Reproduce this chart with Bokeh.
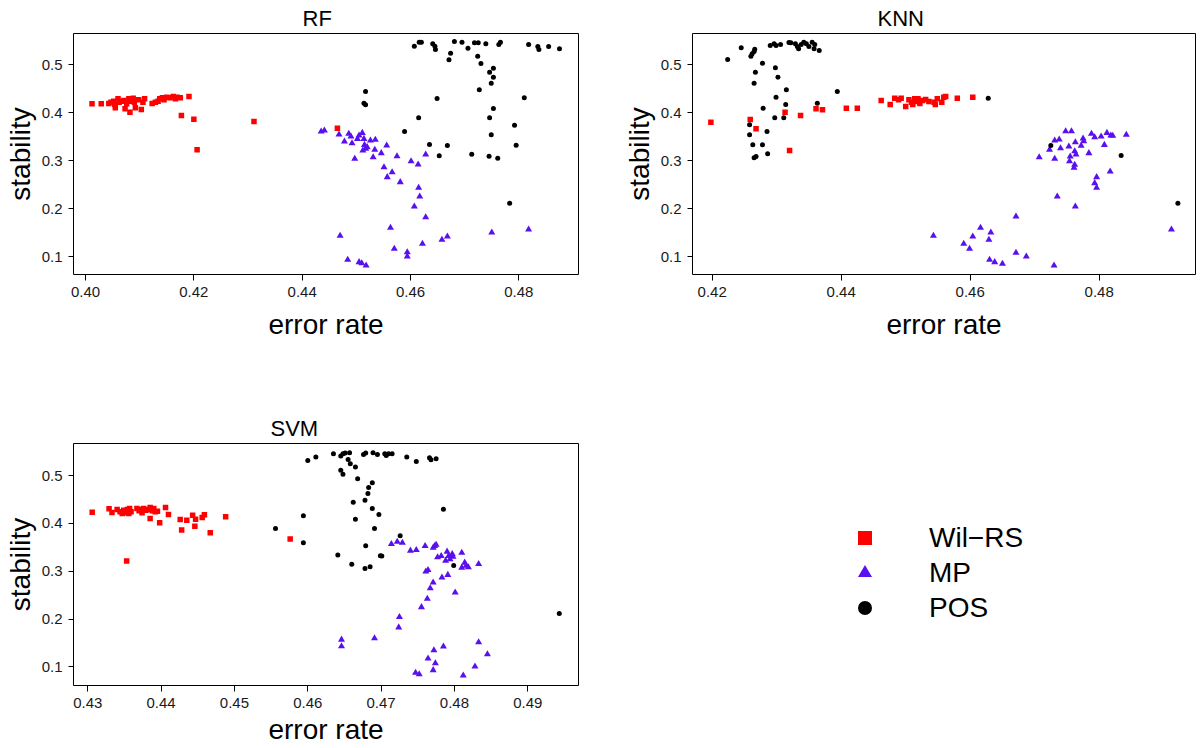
from bokeh.plotting import figure
from bokeh.models import Range1d, FixedTicker, NumeralTickFormatter, Legend, LegendItem
from bokeh.layouts import column, row
from bokeh.embed import file_html
from bokeh.resources import INLINE

FONT = "Liberation Sans"

methods = ["Wil−RS", "MP", "POS"]
colors = ["#FF0000", "#5A0FEF", "#000000"]
markers = ["square", "triangle", "circle"]
sizes = [5.5, 7, 5]

# ---------------- RF ----------------
rf_wil_err = [0.4012, 0.4029, 0.4043, 0.4047, 0.4052, 0.4054, 0.4060, 0.4062, 0.4055, 0.4066,
              0.4071, 0.4073, 0.4076, 0.4080, 0.4082, 0.4084, 0.4088, 0.4090, 0.4092, 0.4098,
              0.4103, 0.4106, 0.4109, 0.4123, 0.4129, 0.4134, 0.4137, 0.4142, 0.4145, 0.4150,
              0.4156, 0.4162, 0.4166, 0.4169, 0.4175, 0.4177, 0.4191, 0.4200, 0.4206, 0.4311,
              0.4465]
rf_wil_stab = [0.418, 0.418, 0.419, 0.4215, 0.4236, 0.4167, 0.4285, 0.4215, 0.4097, 0.4236,
               0.4250, 0.4076, 0.418, 0.4285, 0.4007, 0.4236, 0.4299, 0.4215, 0.4097, 0.4264,
               0.4063, 0.4215, 0.4285, 0.419, 0.4215, 0.4236, 0.4285, 0.4306, 0.4264, 0.432,
               0.4306, 0.4333, 0.4285, 0.432, 0.4306, 0.3938, 0.4333, 0.3861, 0.3222, 0.3813,
               0.3673]
rf_mp_err = [0.4435, 0.4441, 0.4468, 0.4478, 0.4486, 0.4490, 0.4492, 0.4497, 0.4502, 0.4505,
             0.4511, 0.4514, 0.4515, 0.4517, 0.4520, 0.4512, 0.4526, 0.4531, 0.4534, 0.4535,
             0.4546, 0.4551, 0.4556, 0.4557, 0.4566, 0.4575, 0.4581, 0.4601, 0.4614, 0.4615,
             0.4617, 0.4607, 0.4628, 0.4628, 0.4470, 0.4484, 0.4505, 0.4510, 0.4518, 0.4563,
             0.4570, 0.4594, 0.4594, 0.4622, 0.4658, 0.4668, 0.4750, 0.4818]
rf_mp_stab = [0.3604, 0.3625, 0.3542, 0.3396, 0.3556, 0.35, 0.3361, 0.3035, 0.3451, 0.3521,
              0.3576, 0.3451, 0.3326, 0.3243, 0.3278, 0.3208, 0.3417, 0.3069, 0.3222, 0.3431,
              0.3153, 0.2861, 0.3313, 0.2653, 0.2757, 0.309, 0.2549, 0.2986, 0.2917, 0.2431,
              0.225, 0.2042, 0.3125, 0.1819, 0.1431, 0.0931, 0.0882, 0.0861, 0.0813, 0.1597,
              0.116, 0.109, 0.1, 0.1264, 0.1347, 0.1417, 0.15, 0.1563]
rf_pos_err = [0.4607, 0.4616, 0.4620, 0.4641, 0.4645, 0.4646, 0.4681, 0.4695, 0.4706, 0.4718,
              0.4725, 0.4739, 0.4763, 0.4766, 0.4818, 0.4835, 0.4837, 0.4855, 0.4875, 0.4674,
              0.4671, 0.4724, 0.4730, 0.4753, 0.4746, 0.4753, 0.4749, 0.4727, 0.4517, 0.4514,
              0.4517, 0.4649, 0.4810, 0.4753, 0.4615, 0.4746, 0.4792, 0.4589, 0.4749, 0.4635,
              0.4668, 0.4795, 0.4653, 0.4713, 0.4745, 0.4761, 0.4783]
rf_pos_stab = [0.5382, 0.5465, 0.5465, 0.5431, 0.5382, 0.5313, 0.5479, 0.5465, 0.534, 0.5451,
               0.5451, 0.5431, 0.5417, 0.5465, 0.5417, 0.5375, 0.5313, 0.5375, 0.5326, 0.5236,
               0.5097, 0.5174, 0.5021, 0.4924, 0.484, 0.4736, 0.4611, 0.4472, 0.4438, 0.4194,
               0.416, 0.4292, 0.4306, 0.4083, 0.3889, 0.3889, 0.3736, 0.3604, 0.3535, 0.3333,
               0.3313, 0.3319, 0.3097, 0.3132, 0.309, 0.3049, 0.2111]

# ---------------- KNN ----------------
knn_wil_err = [0.4198, 0.4259, 0.4268, 0.4313, 0.4320, 0.4337, 0.4361, 0.4371, 0.4408, 0.4425,
               0.4462, 0.4476, 0.4483, 0.4489, 0.4493, 0.4500, 0.4505, 0.4509, 0.4511, 0.4514,
               0.4516, 0.4519, 0.4522, 0.4526, 0.4531, 0.4536, 0.4544, 0.4546, 0.4549, 0.4556,
               0.4559, 0.4562, 0.4580, 0.4604]
knn_wil_stab = [0.3799, 0.3854, 0.366, 0.4007, 0.3208, 0.3938, 0.4076, 0.4056, 0.409, 0.409,
                0.425, 0.4167, 0.4299, 0.4264, 0.4299, 0.4125, 0.4264, 0.4215, 0.4167, 0.4285,
                0.4229, 0.4285, 0.419, 0.425, 0.4271, 0.4229, 0.4215, 0.4167, 0.4285, 0.4215,
                0.432, 0.4333, 0.4299, 0.432]
knn_mp_err = [0.4543, 0.4590, 0.4599, 0.4604, 0.4616, 0.4632, 0.4629, 0.4630, 0.4638, 0.4650,
              0.4671, 0.4671, 0.4687, 0.4730, 0.4735, 0.4763, 0.4707, 0.4723, 0.4731, 0.4738,
              0.4731, 0.4740, 0.4748, 0.4757, 0.4753, 0.4763, 0.4762, 0.4764, 0.4755, 0.4754,
              0.4762, 0.4761, 0.4772, 0.4775, 0.4776, 0.4784, 0.4788, 0.4793, 0.4803, 0.4808,
              0.4812, 0.4818, 0.4821, 0.4842, 0.4817, 0.4796, 0.4793, 0.4796, 0.4912]
knn_mp_stab = [0.1431, 0.1264, 0.116, 0.1417, 0.1597, 0.15, 0.1347, 0.0931, 0.0882, 0.0847,
               0.1833, 0.1076, 0.1, 0.0813, 0.225, 0.2042, 0.3069, 0.3222, 0.3417, 0.3438,
               0.3035, 0.3257, 0.3611, 0.3611, 0.3292, 0.3382, 0.3194, 0.3125, 0.3083, 0.2986,
               0.291, 0.2847, 0.3306, 0.3458, 0.3403, 0.3153, 0.3556, 0.3486, 0.35, 0.3326,
               0.3576, 0.3521, 0.3514, 0.3535, 0.2771, 0.2653, 0.2528, 0.2431, 0.1563]
knn_pos_err = [0.4224, 0.4245, 0.4260, 0.4262, 0.4265, 0.4266, 0.4267, 0.4265, 0.4278, 0.4290,
               0.4296, 0.4299, 0.4306, 0.4319, 0.4322, 0.4329, 0.4332, 0.4334, 0.4338, 0.4342,
               0.4346, 0.4350, 0.4355, 0.4359, 0.4358, 0.4366, 0.4298, 0.4302, 0.4315, 0.4299,
               0.4279, 0.4314, 0.4363, 0.4394, 0.4311, 0.4297, 0.4258, 0.4258, 0.4263, 0.4285,
               0.4278, 0.4286, 0.4265, 0.4268, 0.4628, 0.4725, 0.4834, 0.4922]
knn_pos_stab = [0.5104, 0.5347, 0.5174, 0.5222, 0.5271, 0.5319, 0.484, 0.4611, 0.5028, 0.5396,
                0.5431, 0.5396, 0.5417, 0.5458, 0.5451, 0.5431, 0.5375, 0.5326, 0.5417, 0.5465,
                0.5431, 0.5375, 0.5465, 0.5417, 0.5326, 0.5292, 0.4931, 0.4736, 0.4472, 0.4319,
                0.409, 0.4167, 0.4194, 0.4438, 0.3889, 0.3889, 0.3743, 0.3535, 0.3326, 0.3604,
                0.3326, 0.3139, 0.3056, 0.3083, 0.4299, 0.3313, 0.3104, 0.211]

# ---------------- SVM ----------------
svm_wil_err = [0.4306, 0.4329, 0.4333, 0.4340, 0.4344, 0.4347, 0.4349, 0.4351, 0.4354, 0.4356,
               0.4357, 0.4359, 0.4367, 0.4370, 0.4372, 0.4374, 0.4376, 0.4379, 0.4382, 0.4385,
               0.4388, 0.4390, 0.4392, 0.4395, 0.4385, 0.4398, 0.4406, 0.4410, 0.4426, 0.4428,
               0.4435, 0.4443, 0.4447, 0.4446, 0.4456, 0.4459, 0.4467, 0.4488, 0.4353, 0.4576]
svm_wil_stab = [0.4236, 0.4306, 0.4229, 0.4292, 0.4243, 0.4208, 0.4278, 0.4222, 0.4292, 0.4208,
                0.4313, 0.4243, 0.4313, 0.4264, 0.4292, 0.4222, 0.4313, 0.4278, 0.4292, 0.4333,
                0.4264, 0.4313, 0.4243, 0.4257, 0.4104, 0.4014, 0.4333, 0.4188, 0.4083, 0.3861,
                0.4069, 0.4174, 0.409, 0.3944, 0.4125, 0.418, 0.3806, 0.4139, 0.3215, 0.3674]
svm_mp_err = [0.4714, 0.4722, 0.4729, 0.4740, 0.4748, 0.4760, 0.4771, 0.4773, 0.4775, 0.4777,
              0.4782, 0.4790, 0.4792, 0.4797, 0.4798, 0.4788, 0.4794, 0.4810, 0.4814, 0.4816,
              0.4810, 0.4819, 0.4833, 0.4761, 0.4764, 0.4783, 0.4791, 0.4771, 0.4767, 0.4801,
              0.4763, 0.4755, 0.4725, 0.4724, 0.4646, 0.4646, 0.4691, 0.4833, 0.4845, 0.4785,
              0.4772, 0.4764, 0.4774, 0.4771, 0.4747, 0.4752, 0.4812, 0.4828]
svm_mp_stab = [0.3569, 0.3618, 0.3597, 0.3431, 0.3444, 0.3528, 0.3493, 0.3528, 0.3556, 0.3292,
               0.3319, 0.341, 0.3319, 0.3361, 0.3306, 0.3222, 0.325, 0.3389, 0.3181, 0.3118,
               0.3076, 0.3083, 0.3153, 0.2993, 0.3028, 0.2868, 0.2924, 0.2764, 0.2646, 0.2556,
               0.2424, 0.225, 0.2042, 0.1826, 0.1569, 0.1431, 0.1597, 0.1514, 0.1264, 0.1424,
               0.1347, 0.1174, 0.1076, 0.0931, 0.0875, 0.0847, 0.0819, 0.1007]
svm_pos_err = [0.4556, 0.4594, 0.4594, 0.4600, 0.4611, 0.4635, 0.4645, 0.4648, 0.4651, 0.4657,
               0.4655, 0.4658, 0.4665, 0.4645, 0.4648, 0.4668, 0.4676, 0.4679, 0.4689, 0.4695,
               0.4705, 0.4707, 0.4710, 0.4715, 0.4735, 0.4748, 0.4766, 0.4768, 0.4775, 0.4688,
               0.4683, 0.4682, 0.4678, 0.4662, 0.4688, 0.4697, 0.4665, 0.4691, 0.4726, 0.4679,
               0.4785, 0.4641, 0.4660, 0.4678, 0.4685, 0.4699, 0.4701, 0.4799, 0.4943]
svm_pos_stab = [0.3896, 0.416, 0.3597, 0.5319, 0.5389, 0.5458, 0.541, 0.5458, 0.5472, 0.5479,
                0.534, 0.525, 0.5181, 0.5111, 0.5028, 0.4938, 0.5444, 0.5472, 0.5479, 0.5444,
                0.5458, 0.5424, 0.5458, 0.5458, 0.5389, 0.5299, 0.5375, 0.5333, 0.5354, 0.4854,
                0.475, 0.4625, 0.4486, 0.4444, 0.4313, 0.4188, 0.409, 0.3896, 0.3743, 0.3535,
                0.4299, 0.334, 0.3146, 0.3056, 0.3097, 0.3326, 0.3319, 0.3118, 0.2117]

stab_ticks = [0.1, 0.2, 0.3, 0.4, 0.5]
rf_err_ticks = [0.40, 0.42, 0.44, 0.46, 0.48]
knn_err_ticks = [0.42, 0.44, 0.46, 0.48]
svm_err_ticks = [0.43, 0.44, 0.45, 0.46, 0.47, 0.48, 0.49]

svm_series = [(svm_wil_err, svm_wil_stab), (svm_mp_err, svm_mp_stab), (svm_pos_err, svm_pos_stab)]


def panel(title, title_offset, xr, yr, xticks, series, width, height, mbl, mbr, mbt, mbb,
          xlab_standoff):
    p = figure(width=width, height=height, x_range=Range1d(*xr), y_range=Range1d(*yr),
               output_backend="svg", toolbar_location=None, title=title,
               min_border_left=mbl, min_border_right=mbr, min_border_top=mbt, min_border_bottom=mbb)
    p.title.align = "left"
    p.title.offset = title_offset
    p.title.text_font = FONT
    p.title.text_font_size = "22px"
    p.title.text_font_style = "normal"
    p.title.text_color = "black"
    p.title.standoff = 6
    p.grid.visible = False
    p.outline_line_color = "black"
    p.outline_line_alpha = 1
    p.outline_line_width = 1
    p.background_fill_color = "white"
    p.border_fill_color = "white"
    for ax in (p.xaxis[0], p.yaxis[0]):
        ax.axis_line_color = None
        ax.major_tick_line_color = "black"
        ax.major_tick_in = 0
        ax.minor_tick_line_color = None
        ax.major_label_text_font = FONT
        ax.major_label_text_font_size = "15px"
        ax.major_label_text_color = "#1a1a1a"
        ax.axis_label_text_font = FONT
        ax.axis_label_text_font_size = "28px"
        ax.axis_label_text_font_style = "normal"
        ax.axis_label_text_color = "black"
    p.xaxis.major_tick_out = 6
    p.xaxis.major_label_standoff = 6
    p.yaxis.major_tick_out = 5
    p.yaxis.major_label_standoff = 6
    p.xaxis.ticker = FixedTicker(ticks=xticks)
    p.xaxis.formatter = NumeralTickFormatter(format="0.00")
    p.yaxis.ticker = FixedTicker(ticks=stab_ticks)
    p.yaxis.formatter = NumeralTickFormatter(format="0.0")
    p.yaxis.axis_label = "stability"
    p.yaxis.axis_label_standoff = 3
    p.xaxis.axis_label = "error rate"
    p.xaxis.axis_label_standoff = xlab_standoff
    for (xs, ys), c, m, s in zip(series, colors, markers, sizes):
        p.scatter(xs, ys, marker=m, size=s, fill_color=c, line_color=None)
    return p


p_rf = panel("RF", 229, (0.39778, 0.49101), (0.0625, 0.5646), rf_err_ticks,
             [(rf_wil_err, rf_wil_stab), (rf_mp_err, rf_mp_stab), (rf_pos_err, rf_pos_stab)],
             619, 410, 73, 41, 33, 136, 9)
p_knn = panel("KNN", 185, (0.41695, 0.49493), (0.0625, 0.5646), knn_err_ticks,
              [(knn_wil_err, knn_wil_stab), (knn_mp_err, knn_mp_stab), (knn_pos_err, knn_pos_stab)],
              580, 410, 73, 4, 33, 136, 9)
p_svm = panel("SVM", 197, (0.42805, 0.49692), (0.0610, 0.5673), svm_err_ticks, svm_series,
              619, 337, 73, 41, 33, 61, 3)

# legend panel: the keys reuse the SVM series (kept outside this panel's visible ranges)
p_leg = figure(width=580, height=337, output_backend="svg", toolbar_location=None,
               min_border_left=228, min_border_right=0, min_border_top=33, min_border_bottom=61,
               x_range=Range1d(5, 6), y_range=Range1d(5, 6))
p_leg.axis.visible = False
p_leg.grid.visible = False
p_leg.outline_line_color = None
p_leg.background_fill_color = "white"
p_leg.border_fill_color = "white"
items = []
for name, (xs, ys), c, m in zip(methods, svm_series, colors, markers):
    r = p_leg.scatter(xs, ys, marker=m, size=14, fill_color=c, line_color=None)
    items.append(LegendItem(label=name, renderers=[r]))
leg = Legend(items=items, location=(0, 60), orientation="vertical",
             glyph_width=35, glyph_height=35, label_height=35, label_standoff=47,
             spacing=0, padding=0, margin=0, border_line_color=None,
             background_fill_alpha=0, label_text_font=FONT, label_text_font_size="28px",
             label_text_color="black", label_text_baseline="middle")
p_leg.add_layout(leg, "center")

layout = column(row(p_rf, p_knn), row(p_svm, p_leg))
open("out.html", "w").write(file_html(layout, INLINE))
